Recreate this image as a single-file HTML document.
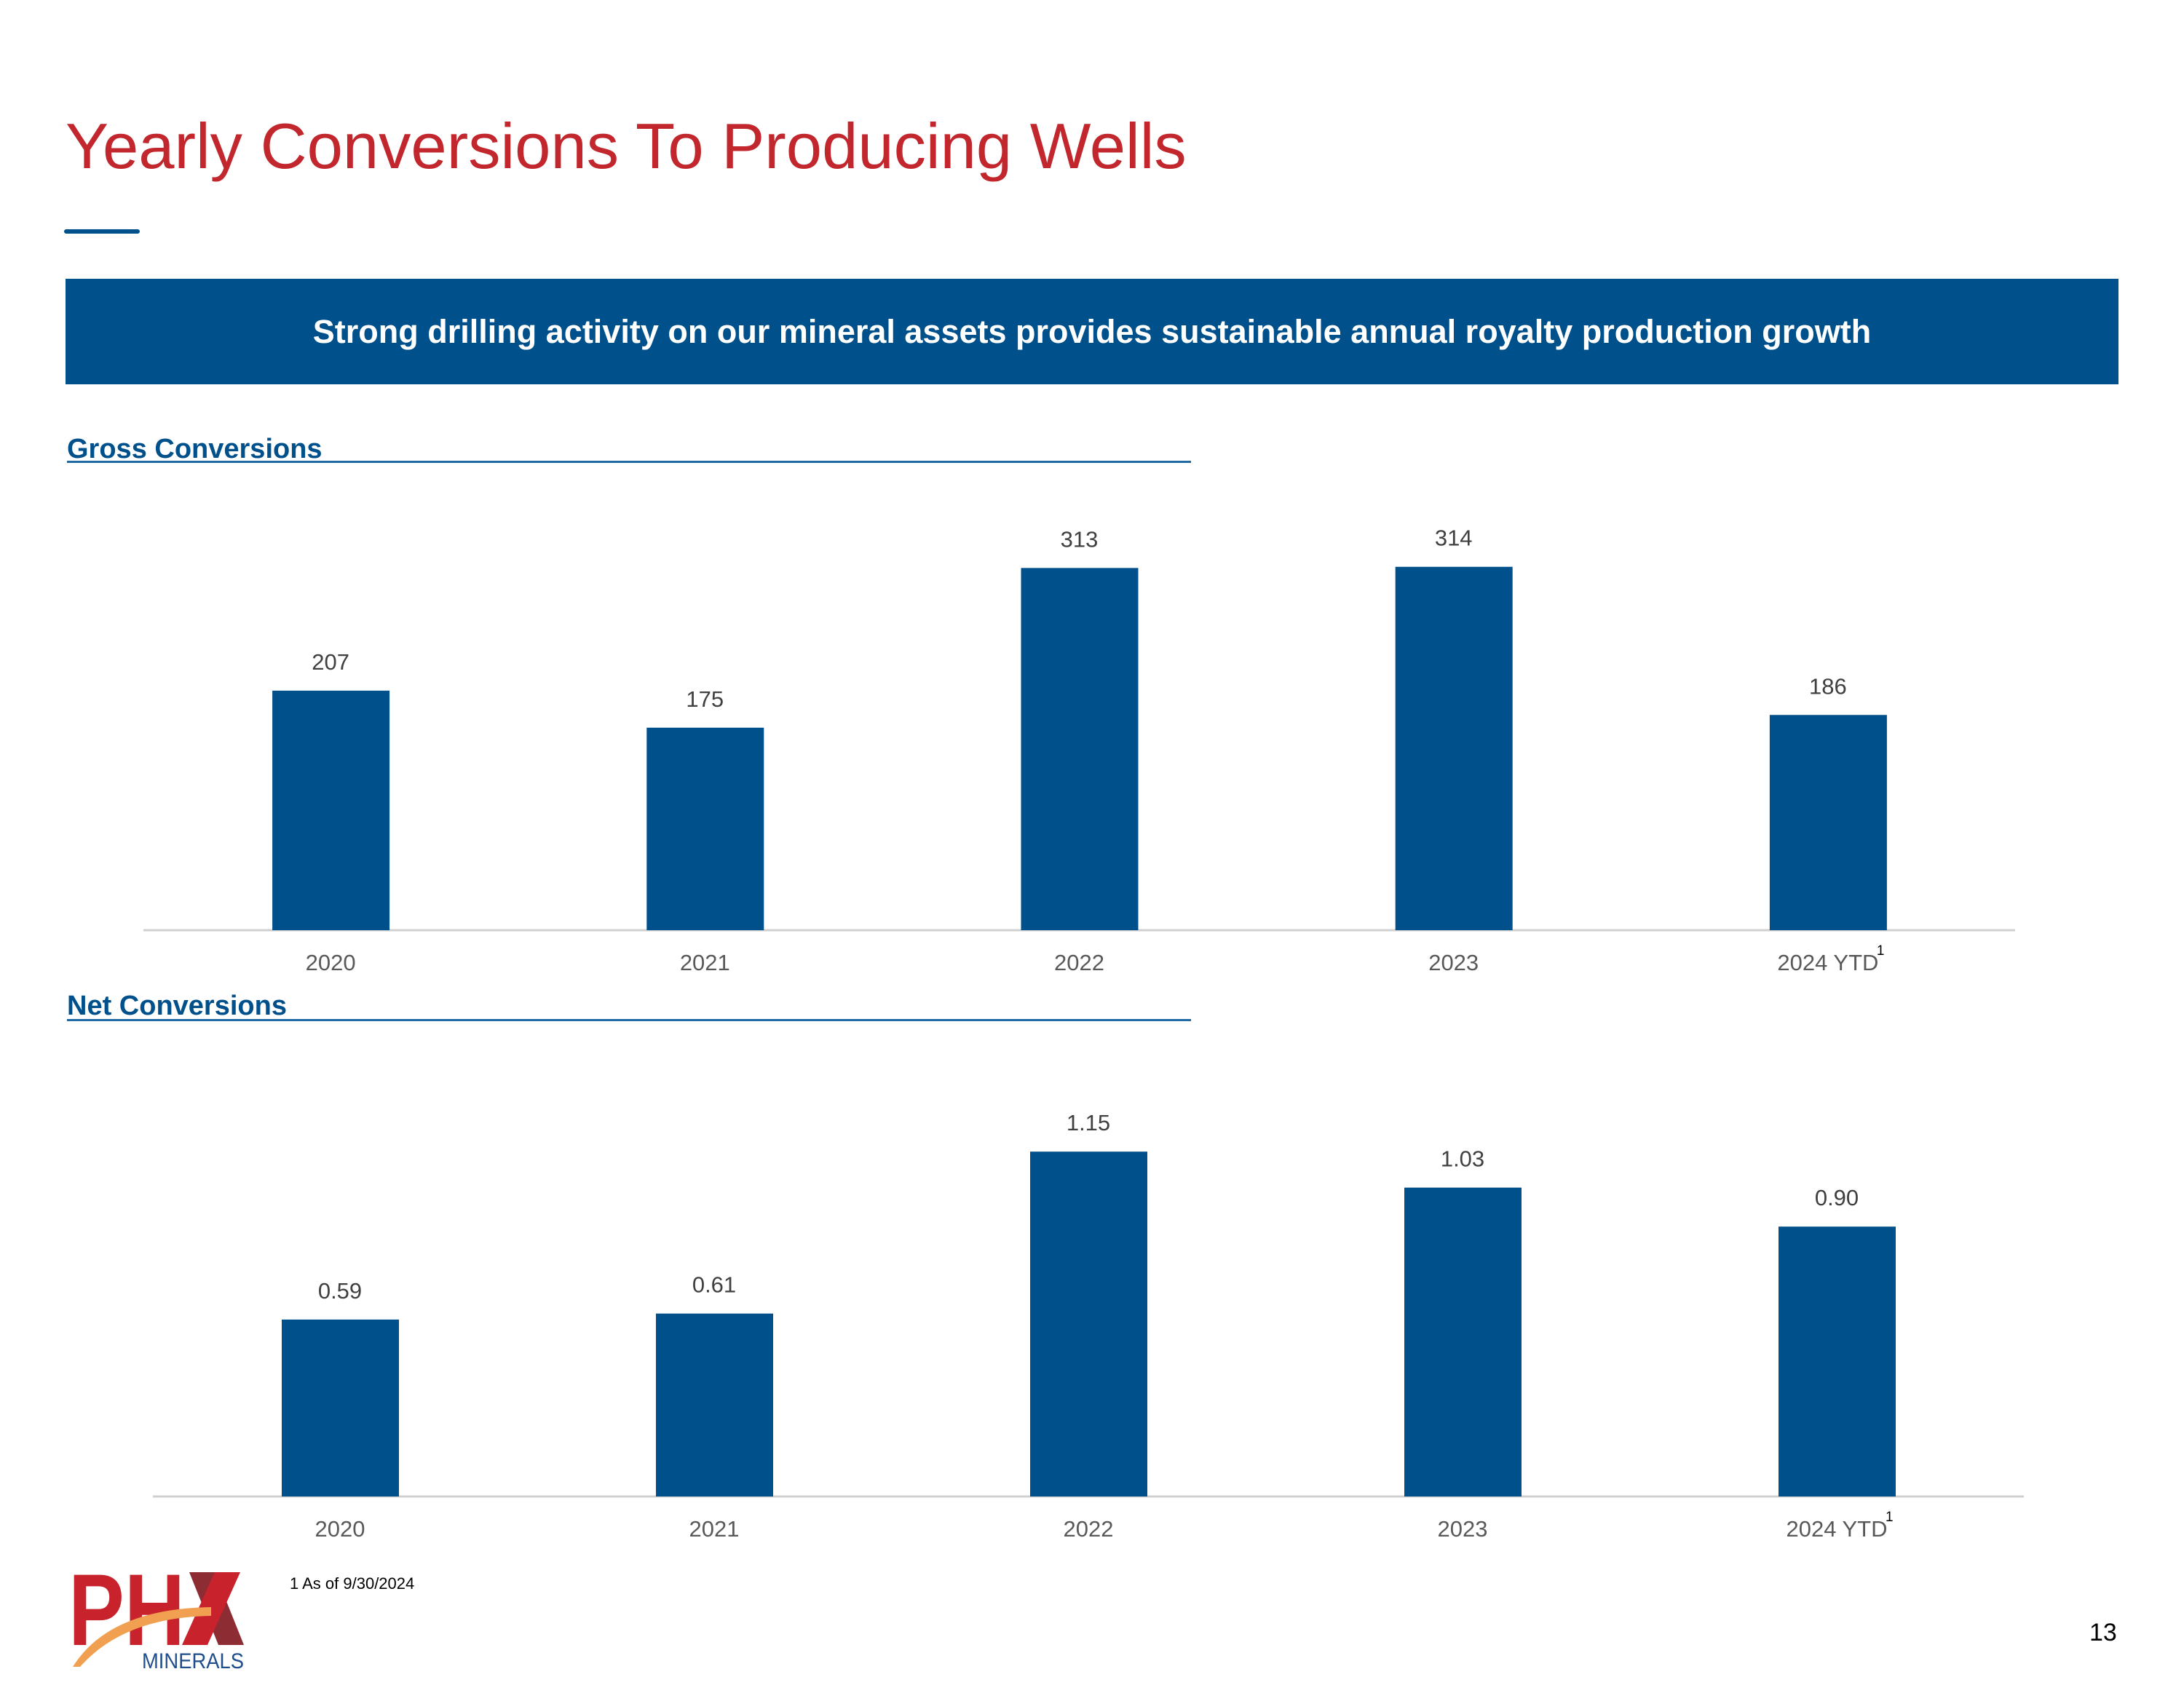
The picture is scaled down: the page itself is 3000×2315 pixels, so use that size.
<!DOCTYPE html>
<html><head><meta charset="utf-8"><style>
body{margin:0;width:3000px;height:2315px;background:#fff;overflow:hidden;font-family:"Liberation Sans",sans-serif;position:relative}
.abs{position:absolute}
</style></head><body>
<div class="abs" style="left:90px;top:150px;font-size:88.6px;color:#c1272d;white-space:nowrap">Yearly Conversions To Producing Wells</div>
<div class="abs" style="left:88px;top:315px;width:104px;height:6px;background:#00508c;border-radius:3px"></div>
<div class="abs" style="left:90px;top:383px;width:2820px;height:145px;background:#00508c;color:#fff;font-weight:bold;font-size:45px;display:flex;align-items:center;justify-content:center">Strong drilling activity on our mineral assets provides sustainable annual royalty production growth</div>
<svg class="abs" style="left:0;top:0" width="3000" height="2315">
<g id="g1"></g>
<g id="g2"></g>
</svg>
<div class="abs" style="left:398px;top:2163px;font-size:22px;color:#000">1 As of 9/30/2024</div>
<div class="abs" style="left:2870px;top:2224px;font-size:34px;color:#000">13</div>
<svg class="abs" style="left:90px;top:2150px" width="260" height="160">
<text x="4" y="110" font-family="Liberation Sans" font-weight="bold" font-size="140" fill="#c8232c" textLength="160" lengthAdjust="spacingAndGlyphs">PH</text>
<path d="M170 10 L205 10 L245 110 L210 110 Z" fill="#8e2c33"/>
<path d="M205 10 L240 10 L195 110 L160 110 Z" fill="#c8232c"/>
<path d="M10 140 Q60 60 200 58 L200 70 Q80 72 20 140 Z" fill="#f0a050"/>
<text x="105" y="142" font-family="Liberation Sans" font-size="30" fill="#1f4e8c" textLength="140" lengthAdjust="spacingAndGlyphs">MINERALS</text>
</svg>
<script>
const categories=["2020","2021","2022","2023","2024 YTD"];
const grossValues=[207,175,313,314,186];
const grossLabels=["207","175","313","314","186"];
const netValues=[0.59,0.61,1.15,1.03,0.90];
const netLabels=["0.59","0.61","1.15","1.03","0.90"];
const NS="http://www.w3.org/2000/svg";
function mk(t,a,p){const e=document.createElementNS(NS,t);for(const k in a)e.setAttribute(k,a[k]);p.appendChild(e);return e;}
function chart(gid,vals,labs,o){
  const g=document.getElementById(gid);
  const t=mk("text",{x:92,y:o.titleY,"font-size":38,"font-weight":"bold",fill:"#00508c"},g);t.textContent=o.title;
  
  
  const u=mk("rect",{x:92,y:o.lineY,width:1544,height:3,fill:"#1f6aa5"},g);
  
  
  const ax=mk("line",{x1:o.x0,x2:o.x1,y1:o.base,y2:o.base,stroke:"#d0d0d0","stroke-width":3},g);
  
  
  const step=(o.x1-o.x0)/categories.length;
  const xs=i=>o.x0+step*(i+0.5);
  const ys=v=>o.base-v*o.k;
  vals.forEach((v,i)=>{
    const r=mk("rect",{x:xs(i)-80,y:ys(v),width:161,height:o.base-ys(v),fill:"#00508c"},g);
    
    
    const l=mk("text",{x:xs(i),y:ys(v)-29,"font-size":31,fill:"#404040","text-anchor":"middle"},g);l.textContent=labs[i];
    
    
    const c=mk("text",{x:xs(i),y:o.base+55,"font-size":31,fill:"#595959","text-anchor":"middle"},g);c.textContent=categories[i];
    
    
  });
  const s=mk("text",{x:xs(4)+67,y:o.base+34,"font-size":19,fill:"#000"},g);s.textContent="1";
  
  
}
chart("g1",grossValues,grossLabels,{title:"Gross Conversions",titleY:629,lineY:633,x0:197,x1:2768,base:1278,k:1.59});
chart("g2",netValues,netLabels,{title:"Net Conversions",titleY:1394,lineY:1400,x0:210,x1:2780,base:2056,k:412});
</script>
</body></html>
